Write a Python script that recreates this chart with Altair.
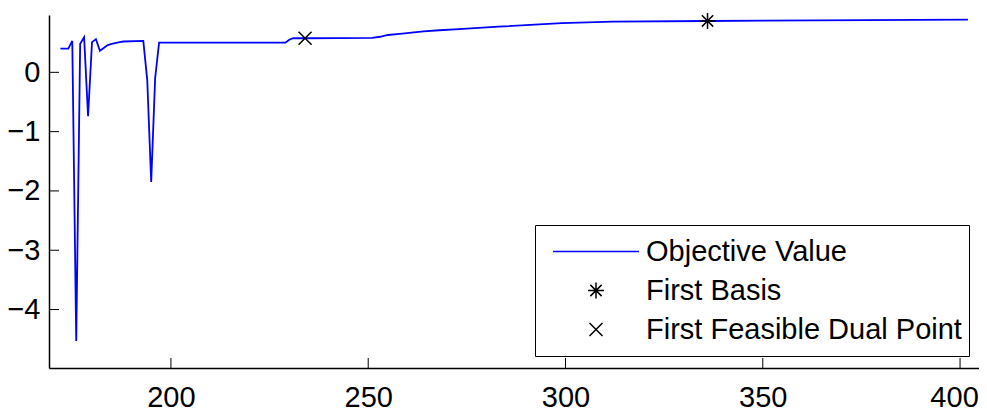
import altair as alt
import pandas as pd

# ---- data ----
iter_x = [172, 174, 175, 176, 177, 178, 179, 180, 181, 182, 184, 185, 187, 188,
          193, 194, 195, 196, 197, 229, 230, 231, 234, 251, 253, 255, 258, 261,
          264, 268, 273, 283, 299, 312, 336, 402]
obj_y = [0.40, 0.40, 0.53, -4.53, 0.48, 0.59, -0.74, 0.51, 0.56, 0.365, 0.46,
         0.48, 0.51, 0.52, 0.53, -0.13, -1.85, -0.10, 0.50, 0.50, 0.55, 0.575,
         0.575, 0.58, 0.60, 0.63, 0.65, 0.67, 0.69, 0.71, 0.73, 0.77, 0.83,
         0.854, 0.866, 0.888]
basis_x = [336]
basis_y = [0.866]
dual_x = [234]
dual_y = [0.575]
series_names = ["Objective Value", "First Basis", "First Feasible Dual Point"]
x_ticks = [200, 250, 300, 350, 400]
y_ticks = [0, -1, -2, -3, -4]

# ---- styling ----
FONT = "Liberation Sans"
FS = 29
W, H = 930, 353
X_DOM = [169.1, 404.8]
Y_DOM = [-4.986, 0.967]
SYM_SIZE = 7396  # sqrt = 86 px -> path unit = 43 px

r = 0.186
d = round(r * 0.7071, 4)
c = 0.151
line_path = "M-1,0L1,0"
star_path = (f"M{-r},0L{r},0M0,{-r}L0,{r}"
             f"M{-d},{-d}L{d},{d}M{-d},{d}L{d},{-d}")
cross_path = f"M{-c},{-c}L{c},{c}M{-c},{c}L{c},{-c}"

line_df = pd.DataFrame({"x": iter_x, "y": obj_y, "series": series_names[0]})
pts_df = pd.DataFrame({
    "x": basis_x + dual_x,
    "y": basis_y + dual_y,
    "series": [series_names[1]] * len(basis_x) + [series_names[2]] * len(dual_x),
})
xt_df = pd.DataFrame({"v": x_ticks})
yt_df = pd.DataFrame({"v": y_ticks})

xscale = alt.Scale(domain=X_DOM, nice=False, zero=False)
yscale = alt.Scale(domain=Y_DOM, nice=False, zero=False)
color_scale = alt.Scale(domain=series_names, range=["#0000ff", "#000000", "#000000"])
shape_scale = alt.Scale(domain=series_names, range=[line_path, star_path, cross_path])

legend = alt.Legend(
    title=None, orient="none", legendX=486, legendY=210,
    strokeColor="black", fillColor="white", padding=7,
    symbolSize=SYM_SIZE, symbolStrokeWidth=1.5, symbolOpacity=1,
    symbolFillColor="transparent", symbolOffset=10,
    labelFont=FONT, labelFontSize=FS, labelColor="black", labelOffset=6,
    labelLimit=0, clipHeight=39, rowPadding=0,
)

xaxis = alt.Axis(values=x_ticks, ticks=False, grid=False, title=None,
                 labelFont=FONT, labelFontSize=FS, labelColor="black",
                 labelPadding=15, labelFlush=False,
                 labelOffset={"condition": {"test": "datum.value == 400", "value": -6},
                              "value": 0},
                 domainColor="black", domainWidth=1.5)
yaxis = alt.Axis(values=y_ticks, ticks=False, grid=False, title=None,
                 labelFont=FONT, labelFontSize=FS, labelColor="black",
                 labelPadding=9, domainColor="black", domainWidth=1.5)

line = alt.Chart(line_df).mark_line(strokeWidth=1.8, interpolate="linear").encode(
    x=alt.X("x:Q", scale=xscale, axis=xaxis),
    y=alt.Y("y:Q", scale=yscale, axis=yaxis),
    color=alt.Color("series:N", scale=color_scale, legend=legend),
    shape=alt.Shape("series:N", scale=shape_scale, legend=legend),
)

pts = alt.Chart(pts_df).mark_point(filled=False, strokeWidth=1.5, opacity=1,
                                   size=SYM_SIZE).encode(
    x=alt.X("x:Q", scale=xscale, axis=xaxis),
    y=alt.Y("y:Q", scale=yscale, axis=yaxis),
    color=alt.Color("series:N", scale=color_scale, legend=legend),
    shape=alt.Shape("series:N", scale=shape_scale, legend=legend),
)

xticks = alt.Chart(xt_df).mark_rule(color="black", strokeWidth=1).encode(
    x=alt.X("v:Q", scale=xscale, axis=xaxis),
    y=alt.value(H), y2=alt.value(H - 10),
)
yticks = alt.Chart(yt_df).mark_rule(color="black", strokeWidth=1).encode(
    y=alt.Y("v:Q", scale=yscale, axis=yaxis),
    x=alt.value(0), x2=alt.value(10),
)

chart = alt.layer(line, pts, xticks, yticks).properties(
    width=W, height=H,
    background="white",
    autosize=alt.AutoSizeParams(type="none"),
    padding={"left": 41, "top": 7, "right": 0, "bottom": 45},
).configure_view(stroke=None)

chart.save("out.html", embed_options={"renderer": "svg", "actions": False})
